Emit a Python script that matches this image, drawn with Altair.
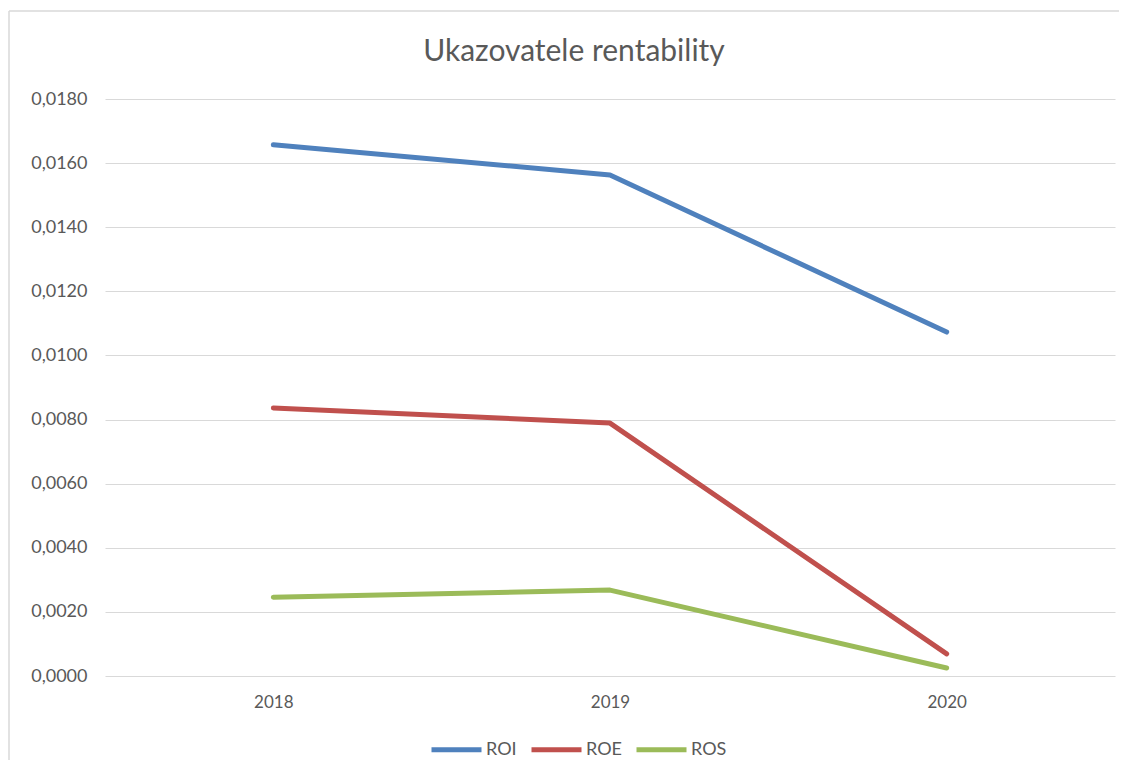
import altair as alt
import pandas as pd

years = ["2018", "2019", "2020"]
roi = [0.01657, 0.01563, 0.01073]
roe = [0.00836, 0.00789, 0.00069]
ros = [0.00246, 0.00268, 0.00025]
series = ["ROI", "ROE", "ROS"]
colors = ["#4F81BD", "#C0504D", "#9BBB59"]
y_ticks = [0.0, 0.002, 0.004, 0.006, 0.008, 0.010, 0.012, 0.014, 0.016, 0.018]
chart_title = "Ukazovatele rentability"

rows = []
for name, vals in zip(series, [roi, roe, ros]):
    for yr, v in zip(years, vals):
        rows.append({"Rok": yr, "Ukazovateľ": name, "Hodnota": v})
df = pd.DataFrame(rows)

FONT = "Lato"
GRAY = "#595959"

lines = alt.Chart(df).mark_line(strokeWidth=5, strokeCap="round", strokeJoin="round").encode(
    x=alt.X("Rok:N", sort=years, title=None,
            scale=alt.Scale(type="point", padding=0.5),
            axis=alt.Axis(labelAngle=0, ticks=False, domain=False, grid=False,
                          labelPadding=18, labelFontSize=17, labelColor=GRAY, labelFont=FONT)),
    y=alt.Y("Hodnota:Q", title=None,
            scale=alt.Scale(domain=[0, 0.018], nice=False, zero=True),
            axis=alt.Axis(values=y_ticks, ticks=False, domain=False, grid=True,
                          gridColor="#D9D9D9", gridWidth=1.2,
                          labelExpr="replace(format(datum.value, '.4f'), '.', ',')",
                          labelPadding=18, labelFontSize=18, labelColor=GRAY, labelFont=FONT)),
    color=alt.Color("Ukazovateľ:N", sort=series,
                    scale=alt.Scale(domain=series, range=colors),
                    legend=alt.Legend(title=None, orient="none", direction="horizontal",
                                      legendX=324, legendY=623,
                                      symbolType="stroke", symbolSize=2500, symbolStrokeWidth=5,
                                      labelFontSize=18, labelColor=GRAY, labelFont=FONT,
                                      labelOffset=2, columnPadding=4)),
)

frame = pd.DataFrame({"t": [chart_title]})
title_mark = alt.Chart(frame).mark_text(
    font=FONT, fontSize=30, color=GRAY, align="center", baseline="alphabetic"
).encode(text="t:N", x=alt.value(469), y=alt.value(-38))
left_border = alt.Chart(frame).mark_rule(color="#D9D9D9", strokeWidth=1.5).encode(
    x=alt.value(-96), y=alt.value(-88), y2=alt.value(700))
top_border = alt.Chart(frame).mark_rule(color="#D9D9D9", strokeWidth=1.5).encode(
    x=alt.value(-96), x2=alt.value(1020), y=alt.value(-88))

chart = alt.layer(lines, title_mark, left_border, top_border).properties(
    width=1010, height=577,
    autosize=alt.AutoSizeParams(type="none"),
    padding={"left": 97, "top": 91, "right": 4, "bottom": 84},
    background="white",
).configure_view(stroke="transparent", strokeWidth=0)

chart.save("out.html", embed_options={"renderer": "svg", "actions": False})
